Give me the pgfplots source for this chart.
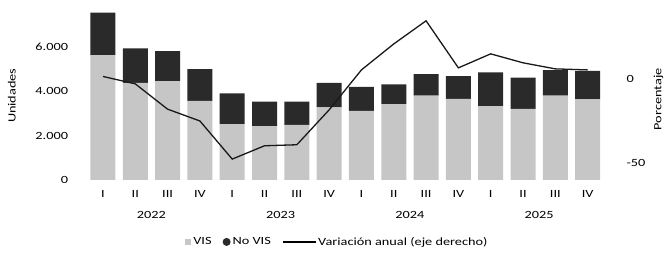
\documentclass[border=0pt]{standalone}
\usepackage{pgfplots}
\pgfplotsset{compat=1.18}
\usepackage{fontspec}
\setmainfont[FakeStretch=1.3]{Carlito}
\definecolor{visgray}{HTML}{C6C6C6}
\definecolor{novis}{HTML}{2A2A2A}
\newcommand{\cf}{\fontsize{11}{13}\selectfont}
\begin{document}
\begin{tikzpicture}[font=\cf]
\begin{axis}[name=ax, scale only axis, width=523.4pt, height=172pt,
  xmin=-0.6, xmax=15.6, ymin=0, ymax=7750, clip=false,
  ybar stacked, bar width=25pt,
  axis lines=left, axis line style={draw=none}, major tick length=0pt,
  xtick={0,...,15},
  xticklabels={I,II,III,IV,I,II,III,IV,I,II,III,IV,I,II,III,IV},
  ytick={0,2000,4000,6000}, yticklabels={0,2.000,4.000,6.000},
  tick label style={font=\cf},
  yticklabel style={anchor=east, xshift=-12pt},
  xticklabel style={anchor=center, yshift=-14pt},
  ylabel={Unidades}, ylabel style={at={(axis description cs:-0.137,0.49)}, anchor=center, font=\cf},
  legend style={at={(axis description cs:0.485,-0.36)}, anchor=center, draw=none, fill=none,
    legend columns=3, font=\cf, inner sep=0pt,
    /tikz/every even column/.append style={column sep=9pt}},
]
\addplot[fill=visgray, draw=none,
  legend image code/.code={\fill[visgray] (0pt,-3pt) rectangle (6pt,3pt);}]
  coordinates {(0,5630) (1,4380) (2,4460) (3,3570) (4,2520) (5,2430) (6,2480) (7,3270)
               (8,3110) (9,3420) (10,3800) (11,3650) (12,3330) (13,3200) (14,3800) (15,3630)};
\addlegendentry{VIS}
\addplot[fill=novis, draw=none,
  legend image code/.code={\fill[novis] (4pt,0pt) circle (4pt);}]
  coordinates {(0,1910) (1,1550) (2,1350) (3,1430) (4,1380) (5,1100) (6,1050) (7,1110)
               (8,1090) (9,890) (10,970) (11,1030) (12,1520) (13,1410) (14,1150) (15,1290)};
\addlegendentry{No VIS}
\addlegendimage{black, line width=1.3pt,
  legend image code/.code={\draw[black, line width=1.3pt] (0pt,0pt) -- (33pt,0pt);}}
\addlegendentry{Variación anual (eje derecho)}
\node[font=\cf] at (axis cs:1.5,0) [yshift=-35pt] {2022};
\node[font=\cf] at (axis cs:5.5,0) [yshift=-35pt] {2023};
\node[font=\cf] at (axis cs:9.5,0) [yshift=-35pt] {2024};
\node[font=\cf] at (axis cs:13.5,0) [yshift=-35pt] {2025};
\end{axis}
\begin{axis}[scale only axis, width=523.4pt, height=172pt,
  xmin=-0.6, xmax=15.6, ymin=-60, ymax=42,
  axis y line*=right, axis x line=none, axis line style={draw=none}, major tick length=0pt,
  ytick={-50,0}, yticklabels={-50,0},
  tick label style={font=\cf},
  yticklabel style={anchor=west, xshift=16pt},
  ylabel={Porcentaje}, ylabel style={at={(axis description cs:1.0985,0.47)}, anchor=center, font=\cf},
]
\addplot[color=black!90, line width=1.3pt] coordinates {
  (0,1.4) (1,-3) (2,-18) (3,-25) (4,-47.6) (5,-39.7) (6,-39.1) (7,-18.4)
  (8,5.3) (9,20.7) (10,34.4) (11,6.5) (12,14.8) (13,9.5) (14,5.9) (15,5.3)};
\end{axis}
\pgfresetboundingbox
\path[use as bounding box] (ax.south west) ++(-83.6pt,-76pt) rectangle ++(666pt,256pt);
\end{tikzpicture}
\end{document}
